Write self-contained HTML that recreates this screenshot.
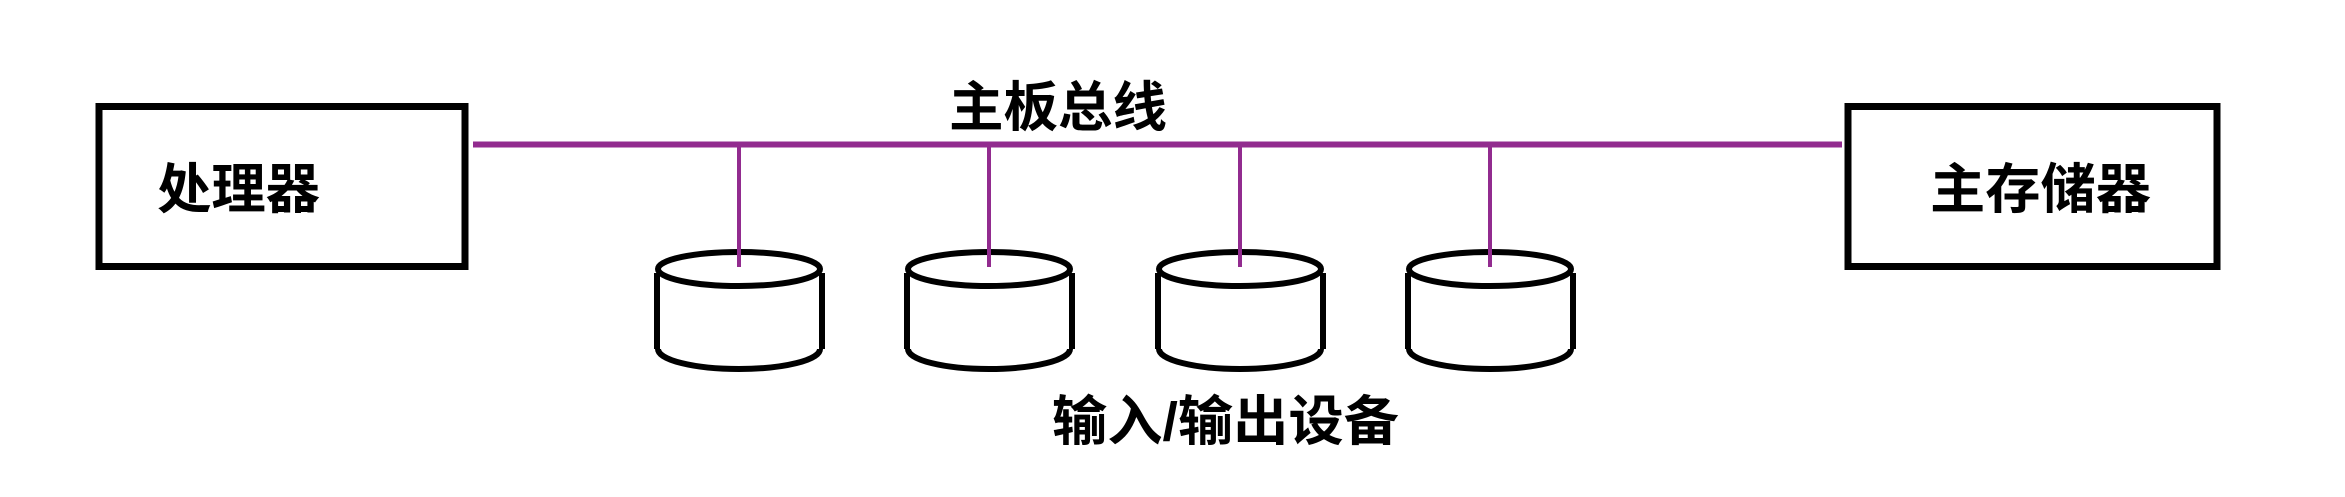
<!DOCTYPE html>
<html><head><meta charset="utf-8"><style>
html,body{margin:0;padding:0;background:#fff;}
body{width:2345px;height:497px;overflow:hidden;position:relative;}
svg{position:absolute;left:0;top:0;}
text{font-family:"Liberation Sans","Noto Sans CJK SC",sans-serif;font-weight:bold;font-size:54px;fill:#000;}
</style></head><body>
<svg width="2345" height="497" viewBox="0 0 2345 497">
<rect x="99" y="106.5" width="366" height="160" fill="none" stroke="#000" stroke-width="7"/>
<rect x="1848" y="106.5" width="369" height="160" fill="none" stroke="#000" stroke-width="7"/>
<line x1="473" y1="144.5" x2="1842" y2="144.5" stroke="#922b8f" stroke-width="6"/>
<g fill="none" stroke="#000" stroke-width="6">
<g id="c">
<ellipse cx="739" cy="269" rx="81" ry="17"/>
<line x1="657" y1="273" x2="657" y2="349"/>
<line x1="822" y1="273" x2="822" y2="349"/>
<path d="M658 349 A81 20 0 0 0 820 349"/>
</g>
<use href="#c" x="250"/>
<use href="#c" x="501"/>
<use href="#c" x="751"/>
</g>
<g stroke="#922b8f" stroke-width="4">
<line x1="739" y1="147" x2="739" y2="267"/>
<line x1="989" y1="147" x2="989" y2="267"/>
<line x1="1240" y1="147" x2="1240" y2="267"/>
<line x1="1490" y1="147" x2="1490" y2="267"/>
</g>
<text x="949" y="126" textLength="218" lengthAdjust="spacingAndGlyphs">主板总线</text>
<text x="157" y="208" textLength="163" lengthAdjust="spacingAndGlyphs">处理器</text>
<text x="1930" y="208" textLength="221" lengthAdjust="spacingAndGlyphs">主存储器</text>
<text x="1052" y="440" textLength="347" lengthAdjust="spacingAndGlyphs">输入/输出设备</text>
</svg>
</body></html>
